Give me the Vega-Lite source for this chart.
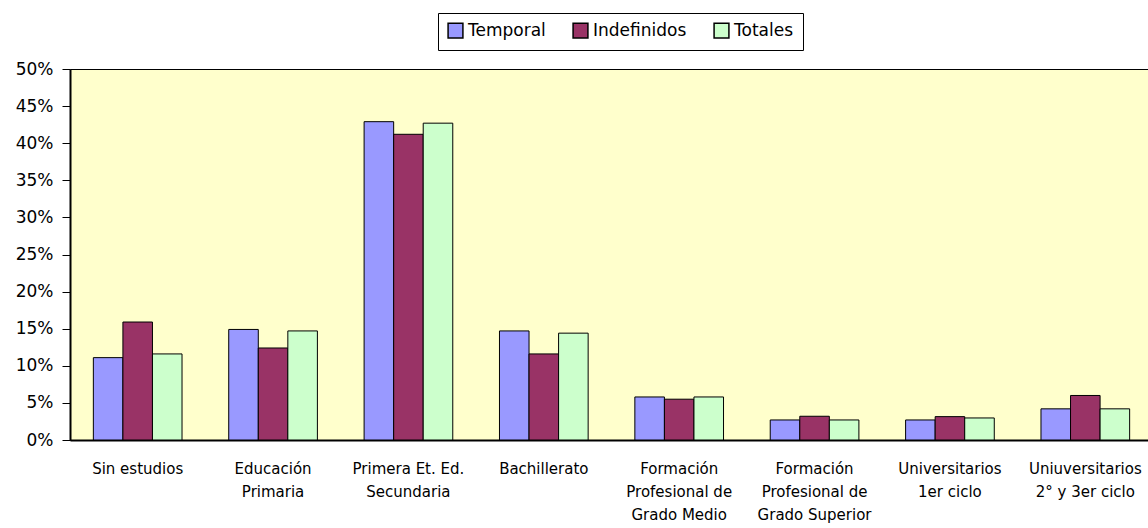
{
  "$schema": "https://vega.github.io/schema/vega-lite/v6.json",
  "width": 1083,
  "height": 371,
  "autosize": {"type": "none"},
  "padding": {"left": 70, "top": 69, "right": 0, "bottom": 88},
  "background": "#ffffff",
  "config": {
    "view": {"fill": "#FFFFCC", "stroke": "#000000", "strokeWidth": 1},
    "font": "DejaVu Sans"
  },
  "data": {
    "values": [
      {"nivel": "Sin estudios", "serie": "Temporal", "valor": 0.111},
      {"nivel": "Sin estudios", "serie": "Indefinidos", "valor": 0.159},
      {"nivel": "Sin estudios", "serie": "Totales", "valor": 0.116},
      {"nivel": "Educación|Primaria", "serie": "Temporal", "valor": 0.149},
      {"nivel": "Educación|Primaria", "serie": "Indefinidos", "valor": 0.124},
      {"nivel": "Educación|Primaria", "serie": "Totales", "valor": 0.147},
      {"nivel": "Primera Et. Ed.|Secundaria", "serie": "Temporal", "valor": 0.429},
      {"nivel": "Primera Et. Ed.|Secundaria", "serie": "Indefinidos", "valor": 0.412},
      {"nivel": "Primera Et. Ed.|Secundaria", "serie": "Totales", "valor": 0.427},
      {"nivel": "Bachillerato", "serie": "Temporal", "valor": 0.147},
      {"nivel": "Bachillerato", "serie": "Indefinidos", "valor": 0.116},
      {"nivel": "Bachillerato", "serie": "Totales", "valor": 0.144},
      {"nivel": "Formación|Profesional de|Grado Medio", "serie": "Temporal", "valor": 0.058},
      {"nivel": "Formación|Profesional de|Grado Medio", "serie": "Indefinidos", "valor": 0.055},
      {"nivel": "Formación|Profesional de|Grado Medio", "serie": "Totales", "valor": 0.058},
      {"nivel": "Formación|Profesional de|Grado Superior", "serie": "Temporal", "valor": 0.027},
      {"nivel": "Formación|Profesional de|Grado Superior", "serie": "Indefinidos", "valor": 0.032},
      {"nivel": "Formación|Profesional de|Grado Superior", "serie": "Totales", "valor": 0.027},
      {"nivel": "Universitarios|1er ciclo", "serie": "Temporal", "valor": 0.027},
      {"nivel": "Universitarios|1er ciclo", "serie": "Indefinidos", "valor": 0.0315},
      {"nivel": "Universitarios|1er ciclo", "serie": "Totales", "valor": 0.0297},
      {"nivel": "Uniuversitarios|2° y 3er ciclo", "serie": "Temporal", "valor": 0.042},
      {"nivel": "Uniuversitarios|2° y 3er ciclo", "serie": "Indefinidos", "valor": 0.060},
      {"nivel": "Uniuversitarios|2° y 3er ciclo", "serie": "Totales", "valor": 0.042}
    ]
  },
  "mark": {"type": "bar", "stroke": "#000000", "strokeWidth": 1},
  "encoding": {
    "x": {
      "field": "nivel",
      "type": "nominal",
      "sort": null,
      "scale": {"paddingInner": 0.345, "paddingOuter": 0.1725},
      "axis": {
        "title": null,
        "labelAngle": 0,
        "labelExpr": "split(datum.value, '|')",
        "labelFont": "DejaVu Sans",
        "labelFontSize": 15,
        "labelLineHeight": 23,
        "labelColor": "#000000",
        "labelPadding": 21,
        "labelLimit": 300,
        "ticks": false,
        "domainColor": "#000000",
        "domainWidth": 2
      }
    },
    "xOffset": {
      "field": "serie",
      "type": "nominal",
      "sort": ["Temporal", "Indefinidos", "Totales"],
      "scale": {"paddingInner": 0, "paddingOuter": 0}
    },
    "y": {
      "field": "valor",
      "type": "quantitative",
      "scale": {"domain": [0, 0.5], "nice": false},
      "axis": {
        "title": null,
        "format": ".0%",
        "values": [0, 0.05, 0.1, 0.15, 0.2, 0.25, 0.3, 0.35, 0.4, 0.45, 0.5],
        "grid": false,
        "tickSize": 8,
        "tickColor": "#000000",
        "labelPadding": 9,
        "labelFont": "DejaVu Sans",
        "labelFontSize": 17,
        "labelColor": "#000000",
        "domainColor": "#000000",
        "domainWidth": 2
      }
    },
    "color": {
      "field": "serie",
      "type": "nominal",
      "sort": ["Temporal", "Indefinidos", "Totales"],
      "scale": {"domain": ["Temporal", "Indefinidos", "Totales"], "range": ["#9999FF", "#993366", "#CCFFCC"]},
      "legend": {
        "title": null,
        "orient": "none",
        "legendX": 368,
        "legendY": -56,
        "direction": "horizontal",
        "fillColor": "#ffffff",
        "strokeColor": "#000000",
        "padding": 9,
        "symbolType": "square",
        "symbolSize": 220,
        "symbolStrokeColor": "#000000",
        "symbolStrokeWidth": 1.5,
        "symbolOpacity": 1,
        "labelFont": "DejaVu Sans",
        "labelFontSize": 17,
        "labelColor": "#000000",
        "labelOffset": 4,
        "columnPadding": 24
      }
    }
  }
}
